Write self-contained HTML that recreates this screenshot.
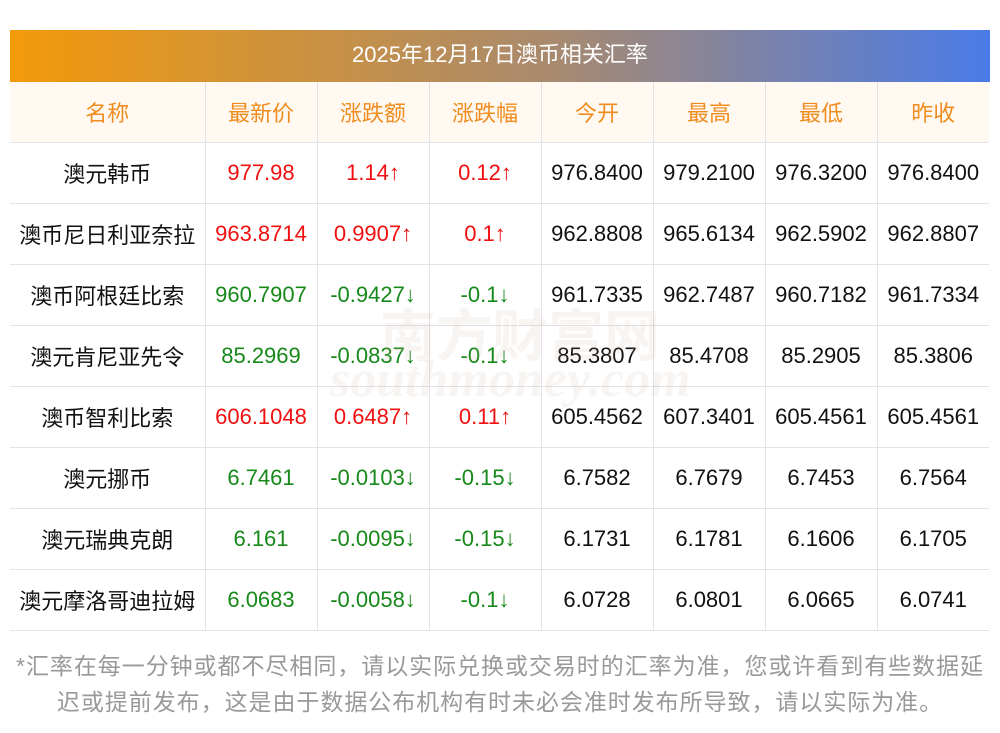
<!DOCTYPE html>
<html><head><meta charset="utf-8"><style>
*{margin:0;padding:0;box-sizing:border-box}
body{width:1000px;height:733px;background:#fff;font-family:"Liberation Sans","Noto Sans CJK SC",sans-serif;position:relative;overflow:hidden}
.title{position:absolute;left:10px;top:30px;width:980px;height:52px;background:linear-gradient(90deg,#f39a0a,#a98a6e 55%,#4a7be8);color:#fff;font-size:22px;text-align:center;line-height:50px}
table{position:absolute;left:10px;top:82px;width:979px;border-collapse:collapse;table-layout:fixed}
td,th{height:61px;text-align:center;font-size:22px;font-weight:normal;border-bottom:1px solid #e2e2e8;border-left:1px solid #e2e2e8;color:#111;white-space:nowrap}
td:first-child,th:first-child{border-left:none}
th{background:#fff9f2;color:#f08c1e;height:60px}
.r{color:#f01010}.g{color:#17891a}
.foot{position:absolute;left:0;top:648px;width:1000px;text-align:center;color:#999;font-size:23px;line-height:36px;white-space:nowrap;letter-spacing:0.95px}
.wm{position:absolute;color:rgba(200,170,150,0.13);font-weight:bold;white-space:nowrap}
</style></head><body>
<div class="title">2025年12月17日澳币相关汇率</div>
<table>
<colgroup><col style="width:195px"><col style="width:112px"><col style="width:112px"><col style="width:112px"><col style="width:112px"><col style="width:112px"><col style="width:112px"><col style="width:112px"></colgroup>
<tr><th>名称</th><th>最新价</th><th>涨跌额</th><th>涨跌幅</th><th>今开</th><th>最高</th><th>最低</th><th>昨收</th></tr>
<tr><td>澳元韩币</td><td class="r">977.98</td><td class="r">1.14↑</td><td class="r">0.12↑</td><td>976.8400</td><td>979.2100</td><td>976.3200</td><td>976.8400</td></tr>
<tr><td>澳币尼日利亚奈拉</td><td class="r">963.8714</td><td class="r">0.9907↑</td><td class="r">0.1↑</td><td>962.8808</td><td>965.6134</td><td>962.5902</td><td>962.8807</td></tr>
<tr><td>澳币阿根廷比索</td><td class="g">960.7907</td><td class="g">-0.9427↓</td><td class="g">-0.1↓</td><td>961.7335</td><td>962.7487</td><td>960.7182</td><td>961.7334</td></tr>
<tr><td>澳元肯尼亚先令</td><td class="g">85.2969</td><td class="g">-0.0837↓</td><td class="g">-0.1↓</td><td>85.3807</td><td>85.4708</td><td>85.2905</td><td>85.3806</td></tr>
<tr><td>澳币智利比索</td><td class="r">606.1048</td><td class="r">0.6487↑</td><td class="r">0.11↑</td><td>605.4562</td><td>607.3401</td><td>605.4561</td><td>605.4561</td></tr>
<tr><td>澳元挪币</td><td class="g">6.7461</td><td class="g">-0.0103↓</td><td class="g">-0.15↓</td><td>6.7582</td><td>6.7679</td><td>6.7453</td><td>6.7564</td></tr>
<tr><td>澳元瑞典克朗</td><td class="g">6.161</td><td class="g">-0.0095↓</td><td class="g">-0.15↓</td><td>6.1731</td><td>6.1781</td><td>6.1606</td><td>6.1705</td></tr>
<tr><td>澳元摩洛哥迪拉姆</td><td class="g">6.0683</td><td class="g">-0.0058↓</td><td class="g">-0.1↓</td><td>6.0728</td><td>6.0801</td><td>6.0665</td><td>6.0741</td></tr>
</table>
<div class="wm" style="left:380px;top:292px;font-size:56px">南方财富网</div>
<div class="wm" style="left:330px;top:350px;font-size:52px;font-style:italic;font-family:'Liberation Serif',serif">southmoney.com</div>
<div class="foot">*汇率在每一分钟或都不尽相同，请以实际兑换或交易时的汇率为准，您或许看到有些数据延<br>迟或提前发布，这是由于数据公布机构有时未必会准时发布所导致，请以实际为准。</div>
</body></html>
